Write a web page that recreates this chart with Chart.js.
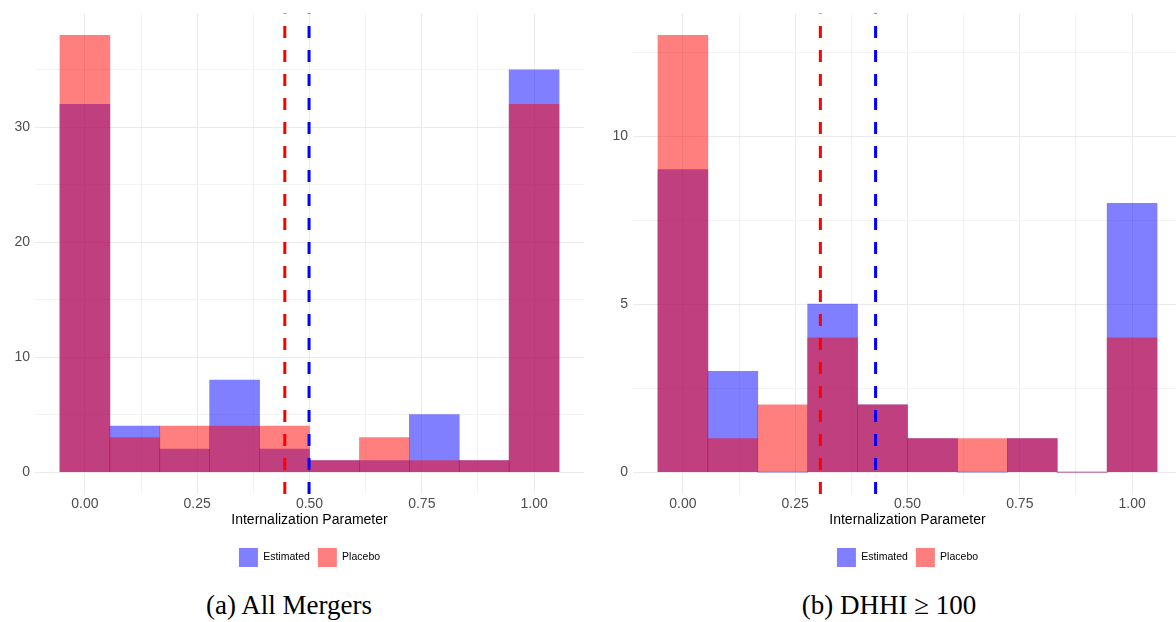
<!DOCTYPE html>
<html>
<head>
<meta charset="utf-8">
<title>Internalization Parameter</title>
<script src="https://cdn.jsdelivr.net/npm/chart.js@4.4.1/dist/chart.umd.min.js"></script>
<style>
  html, body { margin: 0; padding: 0; background: #fff; overflow: hidden; }
  body { width: 1176px; height: 622px; position: relative; }
  canvas { position: absolute; top: 0; }
  .caption {
    position: absolute; top: 590px; line-height: 30px;
    font-family: "Liberation Serif", "Times New Roman", serif; font-size: 27px;
    color: #000; white-space: nowrap; transform: translateX(-50%);
  }
</style>
</head>
<body>
<canvas id="chartAll" width="590" height="585" style="left:0"></canvas>
<canvas id="chartHigh" width="598" height="585" style="left:590px"></canvas>
<div class="caption" style="left:289px">(a) All Mergers</div>
<div class="caption" style="left:889px">(b) DHHI ≥ 100</div>

<script>
// bin centres (10 bins covering [0, 1])
const binCenters = [0, 0.1111, 0.2222, 0.3333, 0.4444, 0.5556, 0.6667, 0.7778, 0.8889, 1];
const xTicks = [0, 0.125, 0.25, 0.375, 0.5, 0.625, 0.75, 0.875, 1];

// (a) all mergers
const estimatedAll = [32, 4, 2, 8, 2, 1, 1, 5, 1, 35];
const placeboAll = [38, 3, 4, 4, 4, 1, 3, 1, 1, 32];
const meanEstimatedAll = 0.499;
const meanPlaceboAll = 0.445;
const yTicksAll = [0, 5, 10, 15, 20, 25, 30, 35];

// (b) DHHI >= 100
const estimatedHigh = [9, 3, 0, 5, 2, 1, 0, 1, 0, 8];
const placeboHigh = [13, 1, 2, 4, 2, 1, 1, 1, 0, 4];
const meanEstimatedHigh = 0.429;
const meanPlaceboHigh = 0.306;
const yTicksHigh = [0, 2.5, 5, 7.5, 10, 12.5];

const BLUE_FILL = 'rgba(0, 0, 255, 0.5)';
const RED_FILL = 'rgba(255, 0, 0, 0.5)';
const FONT = 'Liberation Sans, Arial, sans-serif';

// dashed vertical lines at the two means
const meanLines = {
  id: 'meanLines',
  afterDatasetsDraw(chart, args, opts) {
    const { ctx, chartArea, scales } = chart;
    ctx.save();
    ctx.lineWidth = 3;
    ctx.setLineDash([12, 12]);
    opts.lines.forEach(l => {
      const x = scales.x.getPixelForValue(l.value);
      ctx.strokeStyle = l.color;
      ctx.beginPath();
      ctx.moveTo(x, chartArea.bottom);
      ctx.lineTo(x, chartArea.top);
      ctx.stroke();
    });
    ctx.restore();
  }
};

function isMultiple(v, step) {
  return Math.abs(v / step - Math.round(v / step)) < 1e-9;
}

// major grid lines a touch darker than the minor ones
function gridColor(step) {
  return c => (c.tick && !isMultiple(c.tick.value, step)) ? '#f3f3f3' : '#ebebeb';
}

function makeHistogram(id, estimated, placebo, yRange, yTicks, yLabelStep, means, yAxisWidth) {
  const toPoints = vals => vals.map((v, i) => ({ x: binCenters[i], y: v }));
  return new Chart(document.getElementById(id), {
    type: 'bar',
    data: {
      datasets: [
        {
          label: 'Estimated',
          data: toPoints(estimated),
          backgroundColor: BLUE_FILL,
          order: 1
        },
        {
          label: 'Placebo',
          data: toPoints(placebo),
          backgroundColor: RED_FILL,
          order: 0
        }
      ]
    },
    options: {
      responsive: false,
      animation: false,
      grouped: false,
      barPercentage: 1,
      categoryPercentage: 1,
      borderWidth: 0,
      layout: { autoPadding: false, padding: { top: 9, right: 6, left: 0, bottom: 8 } },
      scales: {
        x: {
          type: 'linear',
          offset: false,
          min: -0.1111,
          max: 1.1111,
          afterBuildTicks: axis => { axis.ticks = xTicks.map(v => ({ value: v })); },
          afterFit: axis => { axis.height = 46; },
          border: { display: false },
          grid: {
            offset: false,
            drawTicks: false,
            color: gridColor(0.25),
            lineWidth: 1
          },
          ticks: {
            padding: 2,
            color: '#4d4d4d',
            font: { family: FONT, size: 14 },
            callback: v => isMultiple(v, 0.25) ? v.toFixed(2) : ''
          },
          title: {
            display: true,
            text: 'Internalization Parameter',
            color: '#000',
            font: { family: FONT, size: 14 },
            padding: { top: 0, bottom: 11.6 }
          }
        },
        y: {
          min: yRange[0],
          max: yRange[1],
          afterBuildTicks: axis => { axis.ticks = yTicks.map(v => ({ value: v })); },
          afterFit: axis => { axis.width = yAxisWidth; },
          border: { display: false },
          grid: {
            drawTicks: false,
            color: gridColor(yLabelStep),
            lineWidth: 1
          },
          ticks: {
            padding: 5,
            color: '#4d4d4d',
            font: { family: FONT, size: 14 },
            callback: v => isMultiple(v, yLabelStep) ? String(v) : ''
          }
        }
      },
      plugins: {
        tooltip: { enabled: false },
        legend: {
          position: 'bottom',
          fullSize: false,
          labels: {
            boxWidth: 19,
            boxHeight: 19,
            padding: 8,
            color: '#1a1a1a',
            font: { family: FONT, size: 10.5 },
            generateLabels: () => [
              { text: 'Estimated', fillStyle: BLUE_FILL, strokeStyle: 'rgba(0,0,0,0)', lineWidth: 0, datasetIndex: 0 },
              { text: 'Placebo', fillStyle: RED_FILL, strokeStyle: 'rgba(0,0,0,0)', lineWidth: 0, datasetIndex: 1 }
            ]
          }
        },
        meanLines: {
          lines: [
            { value: means.placebo, color: '#ff0000' },
            { value: means.estimated, color: '#0000ff' }
          ]
        }
      }
    },
    plugins: [meanLines]
  });
}

makeHistogram('chartAll', estimatedAll, placeboAll, [-1.9, 39.9], yTicksAll, 10,
  { estimated: meanEstimatedAll, placebo: meanPlaceboAll }, 35);
makeHistogram('chartHigh', estimatedHigh, placeboHigh, [-0.65, 13.65], yTicksHigh, 5,
  { estimated: meanEstimatedHigh, placebo: meanPlaceboHigh }, 43);
</script>
</body>
</html>
